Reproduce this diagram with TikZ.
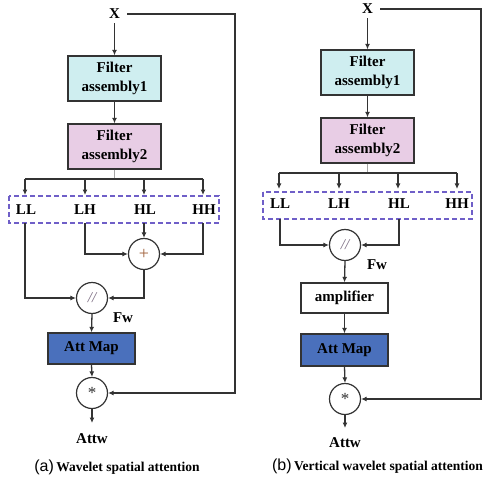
\documentclass[tikz,border=0pt]{standalone}
\usepackage{fontspec}
\setmainfont{Liberation Serif}
\newfontfamily\capsans{Liberation Sans}
\usetikzlibrary{arrows.meta}
\definecolor{cyanbox}{HTML}{CFEEF0}
\definecolor{pinkbox}{HTML}{E8CDE5}
\definecolor{bluebox}{HTML}{4A70BC}
\definecolor{linec}{HTML}{333333}
\definecolor{dashc}{HTML}{6F5FC8}
\definecolor{plusc}{HTML}{A0603A}
\definecolor{divc}{HTML}{7A6A80}
\tikzset{
  lbl/.style={font=\fontsize{15}{19}\selectfont\bfseries, inner sep=0pt, align=center},
  fbox/.style={draw=linec, line width=1.3pt, minimum width=93pt, minimum height=45pt, inner sep=0pt, align=center, font=\fontsize{15}{19}\selectfont\bfseries},
  sbox/.style={draw=linec, line width=1.3pt, minimum width=87pt, inner sep=0pt, align=center, font=\fontsize{15}{19}\selectfont\bfseries},
  opc/.style={draw=linec, line width=1.2pt, circle, minimum size=31pt, inner sep=0pt, fill=white},
  conn/.style={draw=linec, line width=1.3pt},
  arr/.style={conn, -{Latex[length=5.5pt,width=5pt]}},
  dbox/.style={draw=dashc, line width=1.3pt, dash pattern=on 5pt off 3pt},
  capt/.style={inner sep=0pt}
}
\begin{document}
\begin{tikzpicture}[x=1pt,y=-1pt]
\useasboundingbox (0,0) rectangle (486,478);
% ===== (a) =====
\node[lbl] (xa) at (114.5,14) {X};
\node[fbox, fill=cyanbox] (fa1) at (114.5,78.5) {Filter\\assembly1};
\node[fbox, fill=pinkbox] (fa2) at (114.5,146.5) {Filter\\assembly2};
\draw[arr] (xa.south) ++(0,4) coordinate (xas) (xas) -- (fa1.north);
\draw[arr] (fa1.south) -- (fa2.north);
\coordinate (ba) at (114.5,179);
\draw[conn, draw=gray!70] (fa2.south) -- (ba);
\coordinate (bal) at (25,179);
\coordinate (bar) at (203,179);
\draw[conn] (bal) -- (bar);
\draw[dbox] (9,196) rectangle (219,223);
\node[lbl] (ll) at (26,210) {LL};
\node[lbl] (lh) at (85,210) {LH};
\node[lbl] (hl) at (145,210) {HL};
\node[lbl] (hh) at (204,210) {HH};
\coordinate (t1) at (25,195); \coordinate (t2) at (85,195);
\coordinate (t3) at (144,195); \coordinate (t4) at (203,195);
\draw[arr] (bal) -- (t1);
\draw[arr] (85,179) coordinate (b2) (b2) -- (t2);
\draw[arr] (144,179) coordinate (b3) (b3) -- (t3);
\draw[arr] (bar) -- (t4);
\node[opc] (plus) at (144,254) {\color{plusc}\fontsize{18}{18}\selectfont +};
\node[opc] (diva) at (92,298) {\color{divc}\fontsize{15}{15}\selectfont\itshape //};
\node[lbl] (fwa) at (123,318) {Fw};
\node[sbox, fill=bluebox, minimum height=31pt] (atta) at (91.5,348.5) {Att Map};
\node[opc] (mula) at (92,393) {\color{linec}\fontsize{17}{17}\selectfont *};
\node[lbl] (attwa) at (92,439) {Attw};
\coordinate (enda) at (92,423);
% branches below
\coordinate (la1) at (25,223); \coordinate (la2) at (85,223);
\coordinate (la3) at (144,223); \coordinate (la4) at (203,223);
\draw[arr] (la1) |- (diva.west);
\draw[arr] (la2) |- (plus.west);
\draw[arr] (la3) -- (plus.north);
\draw[arr] (la4) |- (plus.east);
\draw[arr] (plus.south) |- (diva.east);
\draw[arr] (diva.south) -- (atta.north);
\draw[arr] (atta.south) -- (mula.north);
\draw[arr] (mula.south) -- (enda);
\coordinate (xae) at (127,14);
\coordinate (fa) at (235,14);
\draw[arr] (xae) -- (fa) |- (mula.east);
\node[capt] (capa) at (117,467) {{\capsans\fontsize{16}{16}\selectfont (a)} {\fontsize{13.5}{16}\selectfont\bfseries Wavelet spatial attention}};
% ===== (b) =====
\node[lbl] (xb) at (367.5,9) {X};
\node[fbox, fill=cyanbox] (fb1) at (367.5,72.5) {Filter\\assembly1};
\node[fbox, fill=pinkbox] (fb2) at (367.5,140.5) {Filter\\assembly2};
\draw[arr] (xb.south) ++(0,4) coordinate (xbs) (xbs) -- (fb1.north);
\draw[arr] (fb1.south) -- (fb2.north);
\coordinate (bb) at (367.5,173);
\draw[conn, draw=gray!70] (fb2.south) -- (bb);
\coordinate (bbl) at (279,173);
\coordinate (bbr) at (457,173);
\draw[conn] (bbl) -- (bbr);
\draw[dbox] (263,192) rectangle (472,219);
\node[lbl] (llb) at (280,204) {LL};
\node[lbl] (lhb) at (339,204) {LH};
\node[lbl] (hlb) at (399,204) {HL};
\node[lbl] (hhb) at (457,204) {HH};
\coordinate (u1) at (279,189); \coordinate (u2) at (339,189);
\coordinate (u3) at (398,189); \coordinate (u4) at (457,189);
\draw[arr] (bbl) -- (u1);
\draw[arr] (339,173) coordinate (c2) (c2) -- (u2);
\draw[arr] (398,173) coordinate (c3) (c3) -- (u3);
\draw[arr] (bbr) -- (u4);
\node[opc] (divb) at (345,245) {\color{divc}\fontsize{15}{15}\selectfont\itshape //};
\node[lbl] (fwb) at (377,265) {Fw};
\node[sbox, fill=white, minimum height=30pt] (amp) at (344.5,298) {amplifier};
\node[sbox, fill=bluebox, minimum height=32pt] (attb) at (344.5,350) {Att Map};
\node[opc] (mulb) at (345,399) {\color{linec}\fontsize{17}{17}\selectfont *};
\node[lbl] (attwb) at (345,443) {Attw};
\coordinate (endb) at (345,428);
\coordinate (lb1) at (280,219); \coordinate (lb3) at (399,219);
\draw[arr] (lb1) |- (divb.west);
\draw[arr] (lb3) |- (divb.east);
\draw[arr] (divb.south) -- (amp.north);
\draw[arr] (amp.south) -- (attb.north);
\draw[arr] (attb.south) -- (mulb.north);
\draw[arr] (mulb.south) -- (endb);
\coordinate (xbe) at (380,9);
\coordinate (fb) at (481,9);
\draw[arr] (xbe) -- (fb) |- (mulb.east);
\node[capt] (capb) at (377.5,466) {{\capsans\fontsize{16}{16}\selectfont (b)} {\fontsize{13.5}{16}\selectfont\bfseries Vertical wavelet spatial attention}};
\end{tikzpicture}
\end{document}
